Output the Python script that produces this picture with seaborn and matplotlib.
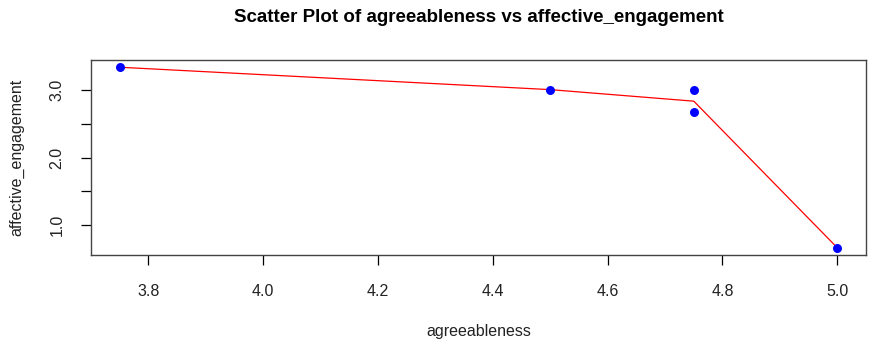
import matplotlib
matplotlib.use("Agg")
import matplotlib.pyplot as plt
import seaborn as sns
import pandas as pd

agreeableness = [3.75, 4.5, 4.75, 4.75, 5.0]
affective_engagement = [3.33, 3.0, 3.0, 2.67, 0.67]
fit_x = [3.75, 4.5, 4.75, 5.0]
fit_y = [3.33, 3.0, 2.83, 0.67]
x_ticks = [3.8, 4.0, 4.2, 4.4, 4.6, 4.8, 5.0]
y_ticks = [1.0, 1.5, 2.0, 2.5, 3.0]
y_tick_labels = ["1.0", "", "2.0", "", "3.0"]

sns.set_style("white", {"xtick.bottom": True, "ytick.left": True,
                        "text.color": "black", "axes.labelcolor": "black",
                        "xtick.color": "black", "ytick.color": "black"})
plt.rcParams['font.family'] = ['Liberation Sans', 'DejaVu Sans']

pts = pd.DataFrame({"agreeableness": agreeableness, "affective_engagement": affective_engagement})
fit = pd.DataFrame({"x": fit_x, "y": fit_y})

fig = plt.figure(figsize=(8.69, 3.47), dpi=100)
ax = fig.add_axes([91/869, 1-255/347, (866-91)/869, (255-60)/347])

sns.lineplot(data=fit, x="x", y="y", color="red", linewidth=0.9, ax=ax, sort=False)
sns.scatterplot(data=pts, x="agreeableness", y="affective_engagement", color="blue",
                s=42, edgecolor="blue", linewidth=0, ax=ax, zorder=3)

ax.set_xlim(3.70, 5.05)
ax.set_ylim(0.5633, 3.4367)
ax.set_xticks(x_ticks)
ax.set_xticklabels([f"{v:.1f}" for v in x_ticks], fontsize=11.5)
ax.set_yticks(y_ticks)
ax.set_yticklabels(y_tick_labels, fontsize=11.5, rotation=90, va="center")
ax.tick_params(axis="both", direction="out", length=7, width=0.9, colors="black",
               labelcolor="#222222")
ax.tick_params(axis="x", pad=14)
ax.tick_params(axis="y", pad=12)
for s in ax.spines.values():
    s.set_color("#444444")
    s.set_linewidth(1.0)

ax.set_xlabel("agreeableness", fontsize=11.5, labelpad=18, color="#222222")
ax.set_ylabel("affective_engagement", fontsize=11.5, labelpad=18, color="#222222")
fig.suptitle("Scatter Plot of agreeableness vs affective_engagement", fontsize=13.5,
             fontweight="bold", x=(91+866)/2/869, y=1-18/347, va="center", color="black")

fig.savefig("out.png", dpi=100)
